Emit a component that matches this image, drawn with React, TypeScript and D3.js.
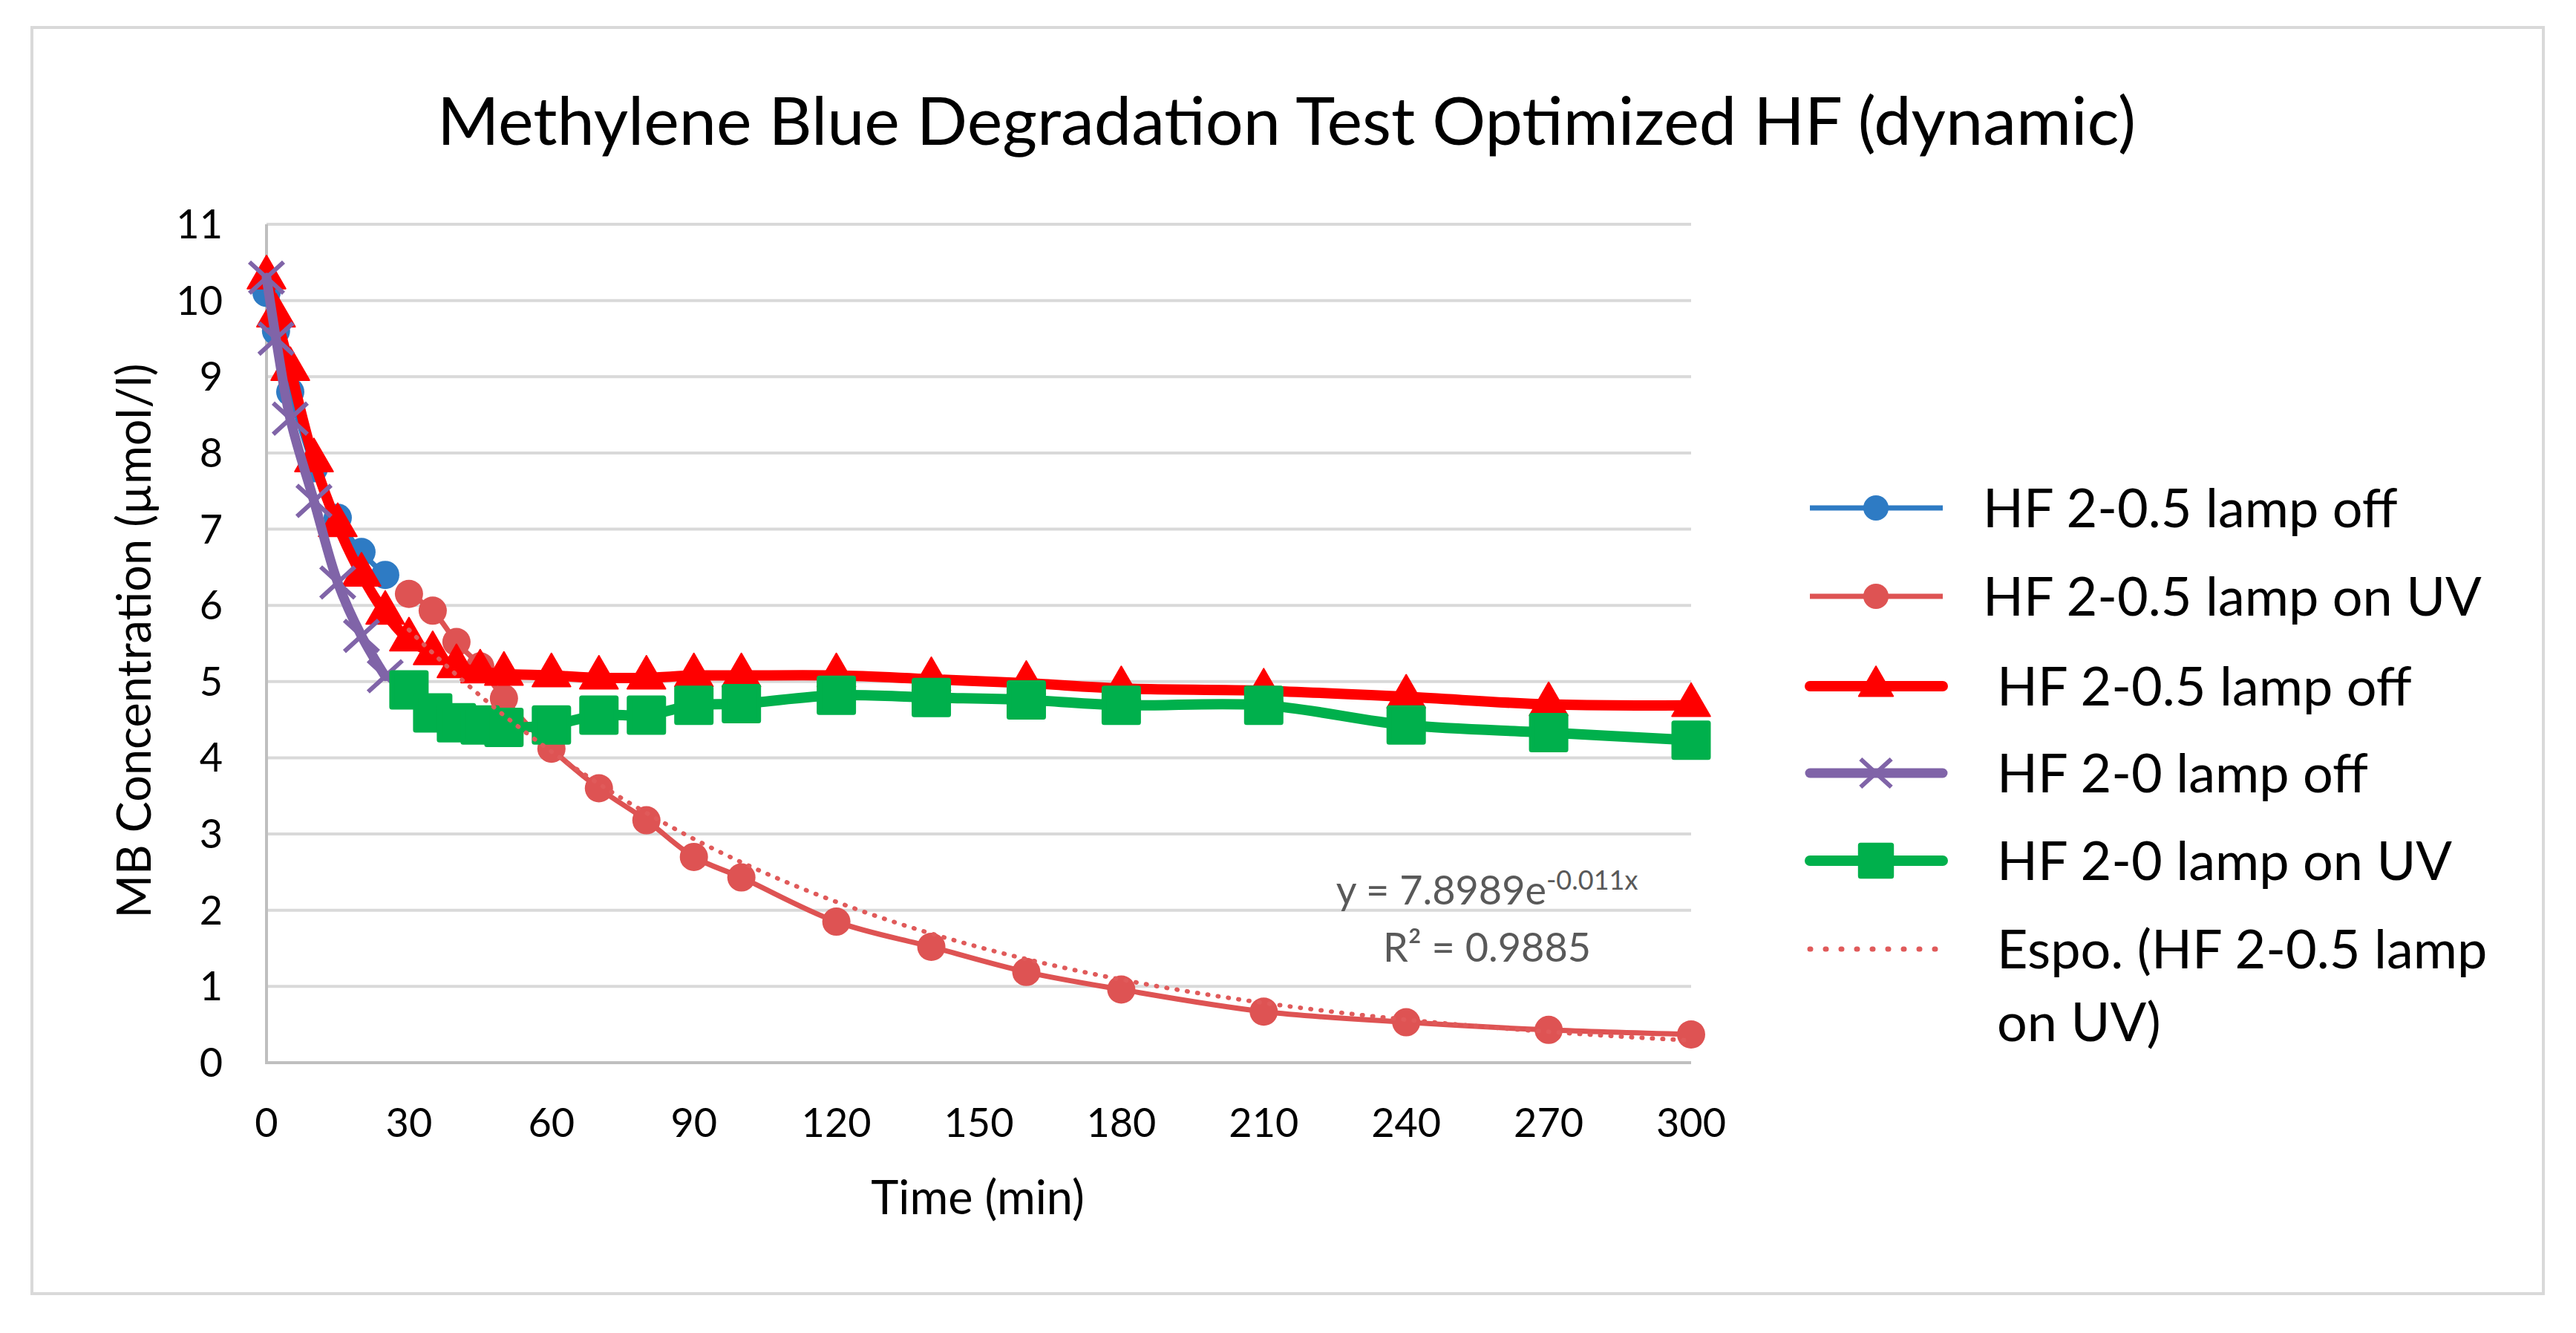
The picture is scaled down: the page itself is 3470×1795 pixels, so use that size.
import React from 'react';
import * as d3 from 'd3';

const W = 3470;
const H = 1795;

// sampling times (min)
const timeDark = [0, 2, 5, 10, 15, 20, 25];
const timeUV = [30, 35, 40, 45, 50, 60, 70, 80, 90, 100, 120, 140, 160, 180, 210, 240, 270, 300];
const timeAll = [...timeDark, ...timeUV];

// MB concentration (µmol/l)
const hf05Dark = [10.1, 9.6, 8.8, 7.8, 7.15, 6.7, 6.4];
const hf05UV = [6.15, 5.93, 5.52, 5.2, 4.78, 4.12, 3.6, 3.18, 2.7, 2.43, 1.85, 1.52, 1.19, 0.96, 0.67, 0.53, 0.43, 0.37];
const hf05Off = [10.3, 9.8, 9.1, 7.9, 7.05, 6.4, 5.9, 5.55, 5.37, 5.2, 5.13, 5.1, 5.08, 5.05, 5.05, 5.08, 5.08, 5.08, 5.03, 4.98, 4.91, 4.88, 4.8, 4.7, 4.69];
const hf0Dark = [10.3, 9.5, 8.45, 7.37, 6.3, 5.6, 5.07];
const hf0UV = [4.89, 4.59, 4.46, 4.43, 4.4, 4.43, 4.56, 4.56, 4.69, 4.71, 4.82, 4.79, 4.76, 4.69, 4.69, 4.43, 4.33, 4.23];

// exponential trend shown on the chart: y = 7.8989e^(-0.011x)
const fitA = 7.8989;
const fitK = -0.011;
const fitRange = [30, 300];

const xTicks = [0, 30, 60, 90, 120, 150, 180, 210, 240, 270, 300];
const yTicks = [0, 1, 2, 3, 4, 5, 6, 7, 8, 9, 10, 11];

const title = 'Methylene Blue Degradation Test Optimized HF (dynamic)';
const xTitle = 'Time (min)';
const yTitle = 'MB Concentration (µmol/l)';

type Marker = 'circle' | 'triangle' | 'cross' | 'square' | 'none';
type Series = { name: string; color: string; width: number; marker: Marker; x: number[]; y: number[] };

const series: Series[] = [
  { name: 'HF 2-0.5 lamp off', color: '#2E7BC4', width: 7, marker: 'circle', x: timeDark, y: hf05Dark },
  { name: 'HF 2-0.5 lamp on UV', color: '#DE5353', width: 7, marker: 'circle', x: timeUV, y: hf05UV },
  { name: ' HF 2-0.5 lamp off', color: '#FF0000', width: 14, marker: 'triangle', x: timeAll, y: hf05Off },
  { name: ' HF 2-0 lamp off', color: '#8064A8', width: 13, marker: 'cross', x: timeDark, y: hf0Dark },
  { name: ' HF 2-0 lamp on UV', color: '#00B04C', width: 14, marker: 'square', x: timeUV, y: hf0UV },
];

const FONT = 'Lato, "Open Sans", sans-serif';

function drawMarker(g: d3.Selection<SVGGElement, unknown, null, undefined>, m: Marker, color: string, cx: number, cy: number, scale = 1) {
  if (m === 'circle') {
    g.append('circle').attr('cx', cx).attr('cy', cy).attr('r', 19 * scale).attr('fill', color);
  } else if (m === 'triangle') {
    g.append('path')
      .attr('transform', `translate(${cx},${cy})`)
      .attr('d', d3.symbol(d3.symbolTriangle, 1150 * scale * scale)())
      .attr('fill', color)
      .attr('stroke', color)
      .attr('stroke-width', 2)
      .attr('stroke-linejoin', 'round');
  } else if (m === 'square') {
    const s = 46 * scale;
    g.append('rect')
      .attr('x', cx - s / 2).attr('y', cy - s / 2)
      .attr('width', s).attr('height', s)
      .attr('fill', color)
      .attr('stroke', color)
      .attr('stroke-width', 7)
      .attr('stroke-linejoin', 'round');
  } else if (m === 'cross') {
    const hx = 23 * scale, hy = 21 * scale;
    g.append('path')
      .attr('d', `M${cx - hx},${cy - hy}L${cx + hx},${cy + hy}M${cx - hx},${cy + hy}L${cx + hx},${cy - hy}`)
      .attr('stroke', color)
      .attr('stroke-width', 6)
      .attr('fill', 'none');
  }
}

export default function App() {
  const svgRef = React.useRef<SVGSVGElement | null>(null);

  React.useEffect(() => {
    const svg = d3.select(svgRef.current);
    svg.selectAll('*').remove();

    const x = d3.scaleLinear().domain([0, 300]).range([359, 2278]);
    const y = d3.scaleLinear().domain([0, 11]).range([1431, 302]);

    // chart frame
    svg.append('rect').attr('x', 0).attr('y', 0).attr('width', W).attr('height', H).attr('fill', '#fff');
    svg.append('rect')
      .attr('x', 43).attr('y', 37).attr('width', 3383).attr('height', 1705)
      .attr('fill', '#fff').attr('stroke', '#D9D9D9').attr('stroke-width', 4);

    // title
    svg.append('text')
      .attr('x', 1733).attr('y', 195)
      .attr('text-anchor', 'middle')
      .attr('font-family', FONT).attr('font-size', 90).attr('fill', '#000')
      .text(title);

    // grid
    svg.append('g')
      .selectAll('line')
      .data(yTicks.filter(d => d > 0))
      .join('line')
      .attr('x1', x(0)).attr('x2', x(300))
      .attr('y1', d => y(d)).attr('y2', d => y(d))
      .attr('stroke', '#D9D9D9').attr('stroke-width', 4);

    // axes lines
    svg.append('line')
      .attr('x1', x(0)).attr('x2', x(0)).attr('y1', y(11)).attr('y2', y(0))
      .attr('stroke', '#BFBFBF').attr('stroke-width', 4);
    svg.append('line')
      .attr('x1', x(0) - 2).attr('x2', x(300)).attr('y1', y(0)).attr('y2', y(0))
      .attr('stroke', '#BFBFBF').attr('stroke-width', 4);

    // tick labels
    svg.append('g')
      .selectAll('text')
      .data(yTicks)
      .join('text')
      .attr('x', 300).attr('y', d => y(d) + 19)
      .attr('text-anchor', 'end')
      .attr('font-family', FONT).attr('font-size', 54).attr('fill', '#000')
      .text(d => d);
    svg.append('g')
      .selectAll('text')
      .data(xTicks)
      .join('text')
      .attr('x', d => x(d)).attr('y', 1531)
      .attr('text-anchor', 'middle')
      .attr('font-family', FONT).attr('font-size', 54).attr('fill', '#000')
      .text(d => d);

    // axis titles
    svg.append('text')
      .attr('x', 1317).attr('y', 1635)
      .attr('text-anchor', 'middle')
      .attr('font-family', FONT).attr('font-size', 63).attr('fill', '#000')
      .text(xTitle);
    svg.append('text')
      .attr('transform', 'translate(203,863) rotate(-90)')
      .attr('text-anchor', 'middle')
      .attr('font-family', FONT).attr('font-size', 63).attr('fill', '#000')
      .text(yTitle);

    // series
    const line = d3.line<[number, number]>()
      .x(d => x(d[0]))
      .y(d => y(d[1]))
      .curve(d3.curveCatmullRom.alpha(0.5));

    series.forEach(s => {
      const pts = s.x.map((t, i) => [t, s.y[i]] as [number, number]);
      const g = svg.append('g');
      g.append('path')
        .datum(pts)
        .attr('d', line)
        .attr('fill', 'none')
        .attr('stroke', s.color)
        .attr('stroke-width', s.width)
        .attr('stroke-linejoin', 'round')
        .attr('stroke-linecap', 'round');
      pts.forEach(p => drawMarker(g as any, s.marker, s.color, x(p[0]), y(p[1])));
    });

    // trendline
    const fitPts = d3.range(fitRange[0], fitRange[1] + 1, 2).map(t => [t, fitA * Math.exp(fitK * t)] as [number, number]);
    svg.append('path')
      .datum(fitPts)
      .attr('d', d3.line<[number, number]>().x(d => x(d[0])).y(d => y(d[1])))
      .attr('fill', 'none')
      .attr('stroke', '#E05A5A')
      .attr('stroke-width', 6)
      .attr('stroke-dasharray', '1 13')
      .attr('stroke-linecap', 'round');

    // equation
    const eq = svg.append('text')
      .attr('x', 2003).attr('y', 1218)
      .attr('text-anchor', 'middle')
      .attr('font-family', FONT).attr('font-size', 54).attr('fill', '#595959');
    eq.append('tspan').text('y = 7.8989e');
    eq.append('tspan').attr('dy', -20).attr('font-size', 36).text('-0.011x');
    svg.append('text')
      .attr('x', 2003).attr('y', 1295)
      .attr('text-anchor', 'middle')
      .attr('font-family', FONT).attr('font-size', 54).attr('fill', '#595959')
      .text('R² = 0.9885');

    // legend
    const rows = [684, 803, 924, 1041, 1159, 1278];
    const lg = svg.append('g');
    series.forEach((s, i) => {
      const ry = rows[i];
      lg.append('line')
        .attr('x1', 2438).attr('x2', 2617).attr('y1', ry).attr('y2', ry)
        .attr('stroke', s.color).attr('stroke-width', s.width)
        .attr('stroke-linecap', s.width > 10 ? 'round' : 'butt');
      drawMarker(lg as any, s.marker, s.color, 2527, ry, 0.9);
      lg.append('text')
        .attr('x', s.name.startsWith(' ') ? 2690 : 2671).attr('y', ry + 26)
        .attr('font-family', FONT).attr('font-size', 72).attr('fill', '#000')
        .text(s.name.trim());
    });
    lg.append('line')
      .attr('x1', 2438).attr('x2', 2617).attr('y1', rows[5]).attr('y2', rows[5])
      .attr('stroke', '#E05A5A').attr('stroke-width', 7)
      .attr('stroke-dasharray', '1 20').attr('stroke-linecap', 'round');
    lg.append('text')
      .attr('x', 2690).attr('y', rows[5] + 26)
      .attr('font-family', FONT).attr('font-size', 72).attr('fill', '#000')
      .text('Espo. (HF 2-0.5 lamp');
    lg.append('text')
      .attr('x', 2690).attr('y', rows[5] + 124)
      .attr('font-family', FONT).attr('font-size', 72).attr('fill', '#000')
      .text('on UV)');
  }, []);

  return (
    <svg ref={svgRef} width={W} height={H} style={{ position: 'absolute', left: 0, top: 0, display: 'block' }} />
  );
}
